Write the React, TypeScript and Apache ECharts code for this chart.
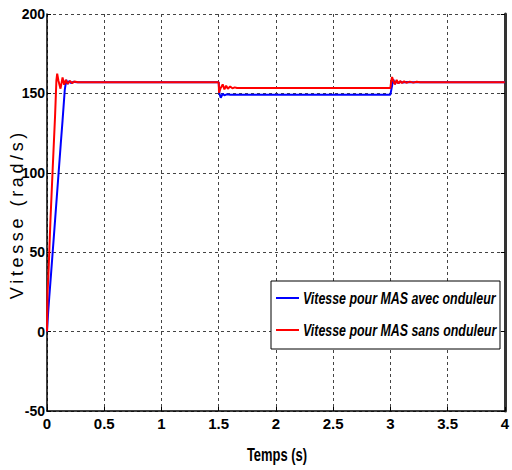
import React, { useEffect, useRef } from "react";
import * as echarts from "echarts";

const xTicks = [0, 0.5, 1, 1.5, 2, 2.5, 3, 3.5, 4];
const yTicks = [-50, 0, 50, 100, 150, 200];

const seriesNames = ["Vitesse pour MAS avec onduleur", "Vitesse pour MAS sans onduleur"];
const seriesColors = ["#0000ff", "#ff0000"];

// Blue: avec onduleur
const blueT = [0, 0.01, 0.02, 0.035, 0.06, 0.09, 0.12, 0.136, 0.155, 0.168, 0.18, 0.195, 0.21, 0.23, 0.26, 1.5,
  1.506, 1.518, 1.535, 1.55, 1.57, 1.6, 3.0,
  3.01, 3.025, 3.04, 3.055, 3.07, 3.09, 3.11, 3.14, 3.18, 4.0];
const blueV = [0, 12, 22, 36, 60, 89, 118, 133, 152, 158.5, 156, 157.8, 156.5, 157.3, 157, 157,
  150, 147.3, 149.8, 148.8, 149.4, 149.2, 149.2,
  153, 158.9, 156, 157.8, 156.4, 157.4, 156.8, 157.2, 157, 157];

// Red: sans onduleur
const redT = [0, 0.005, 0.012, 0.03, 0.05, 0.07, 0.082, 0.089, 0.1, 0.118, 0.136, 0.15, 0.165, 0.18, 0.2, 0.22, 0.24, 0.27, 1.5,
  1.503, 1.515, 1.535, 1.55, 1.565, 1.58, 1.6, 1.62, 1.64, 1.66, 3.0,
  3.008, 3.015, 3.03, 3.04, 3.055, 3.07, 3.085, 3.1, 3.12, 3.14, 3.17, 3.2, 3.23, 3.26, 4.0];
const redV = [0, 25, 35, 70, 103, 135, 158, 162.5, 158, 153, 160, 155.5, 158.5, 156, 157.8, 156.5, 157.5, 157, 157,
  150.5, 153, 155.7, 152.5, 154.8, 153, 154.3, 153.2, 153.8, 153.4, 153.4,
  158, 160.3, 157, 155.7, 158.5, 156.2, 157.8, 156.5, 157.6, 156.7, 157.4, 156.8, 157.3, 157, 157];

const sans = '"Liberation Sans", Arial, sans-serif';

export default function App() {
  const ref = useRef<HTMLDivElement>(null);
  useEffect(() => {
    if (!ref.current) return;
    const chart = echarts.init(ref.current, null, { renderer: "svg" });
    const gridDash = { color: "#444", type: [3, 3] as any, width: 1 };
    const legendItems: any[] = [];
    seriesNames.forEach((name, i) => {
      const cy = 298 + i * 32;
      legendItems.push({
        type: "line",
        shape: { x1: 276, y1: cy, x2: 299, y2: cy },
        style: { stroke: seriesColors[i], lineWidth: 2 },
        z: 11,
      });
      legendItems.push({
        type: "text",
        x: 303,
        y: cy,
        scaleX: 0.73,
        style: {
          text: name,
          fill: "#000",
          font: "italic bold 17px " + sans,
          align: "left",
          verticalAlign: "middle",
        },
        z: 11,
      });
    });
    chart.setOption({
      animation: false,
      backgroundColor: "#fff",
      grid: { left: 47, top: 14, right: 4, bottom: 59 },
      xAxis: {
        type: "value",
        min: xTicks[0],
        max: xTicks[xTicks.length - 1],
        interval: 0.5,
        axisLine: { show: true, onZero: false, lineStyle: { color: "#000", width: 1.5 } },
        axisTick: { show: true, inside: true, length: 4, lineStyle: { color: "#000" } },
        axisLabel: {
          color: "#000", fontFamily: sans, fontWeight: "bold", fontSize: 15, margin: 5,
          formatter: (v: number) => String(v),
        },
        splitLine: { show: true, lineStyle: gridDash },
      },
      yAxis: [
        {
          type: "value",
          min: yTicks[0],
          max: yTicks[yTicks.length - 1],
          interval: 50,
          axisLine: { show: true, onZero: false, lineStyle: { color: "#000", width: 1.5 } },
          axisTick: { show: true, inside: true, length: 4, lineStyle: { color: "#000" } },
          axisLabel: { color: "#000", fontFamily: sans, fontWeight: "bold", fontSize: 14, margin: 2 },
          splitLine: { show: true, lineStyle: gridDash },
        },
        {
          type: "value",
          position: "right",
          min: yTicks[0],
          max: yTicks[yTicks.length - 1],
          interval: 50,
          axisLine: { show: true, onZero: false, lineStyle: { color: "#333", width: 3 } },
          axisTick: { show: true, inside: true, length: 4, lineStyle: { color: "#000" } },
          axisLabel: { show: false },
          splitLine: { show: false },
        },
      ],
      graphic: [
        {
          type: "rect",
          shape: { x: 271, y: 281, width: 229, height: 68 },
          style: { fill: "#fff", stroke: "#000", lineWidth: 1 },
          z: 10,
        },
        ...legendItems,
        {
          type: "text",
          x: 17,
          y: 216,
          rotation: Math.PI / 2,
          style: {
            text: "V\u2009i\u2009t\u2009e\u2009s\u2009s\u2009e\u2009 \u2009(\u2009r\u2009a\u2009d\u2009/\u2009s\u2009)",
            fill: "#000",
            font: "18px " + sans,
            align: "center",
            verticalAlign: "middle",
          },
        },
        {
          type: "text",
          x: 277,
          y: 455,
          scaleX: 0.72,
          style: {
            text: "Temps (s)",
            fill: "#000",
            font: "bold 18px " + sans,
            align: "center",
            verticalAlign: "middle",
          },
        },
      ],
      series: [
        {
          name: seriesNames[0],
          type: "line",
          showSymbol: false,
          symbol: "none",
          lineStyle: { color: seriesColors[0], width: 2 },
          itemStyle: { color: seriesColors[0] },
          data: blueT.map((t, i) => [t, blueV[i]]),
          z: 2,
        },
        {
          name: seriesNames[1],
          type: "line",
          showSymbol: false,
          symbol: "none",
          lineStyle: { color: seriesColors[1], width: 2 },
          itemStyle: { color: seriesColors[1] },
          data: redT.map((t, i) => [t, redV[i]]),
          z: 3,
        },
      ],
    });
    return () => chart.dispose();
  }, []);
  return <div ref={ref} style={{ position: "fixed", left: 0, top: 0, width: 512, height: 470 }} />;
}
